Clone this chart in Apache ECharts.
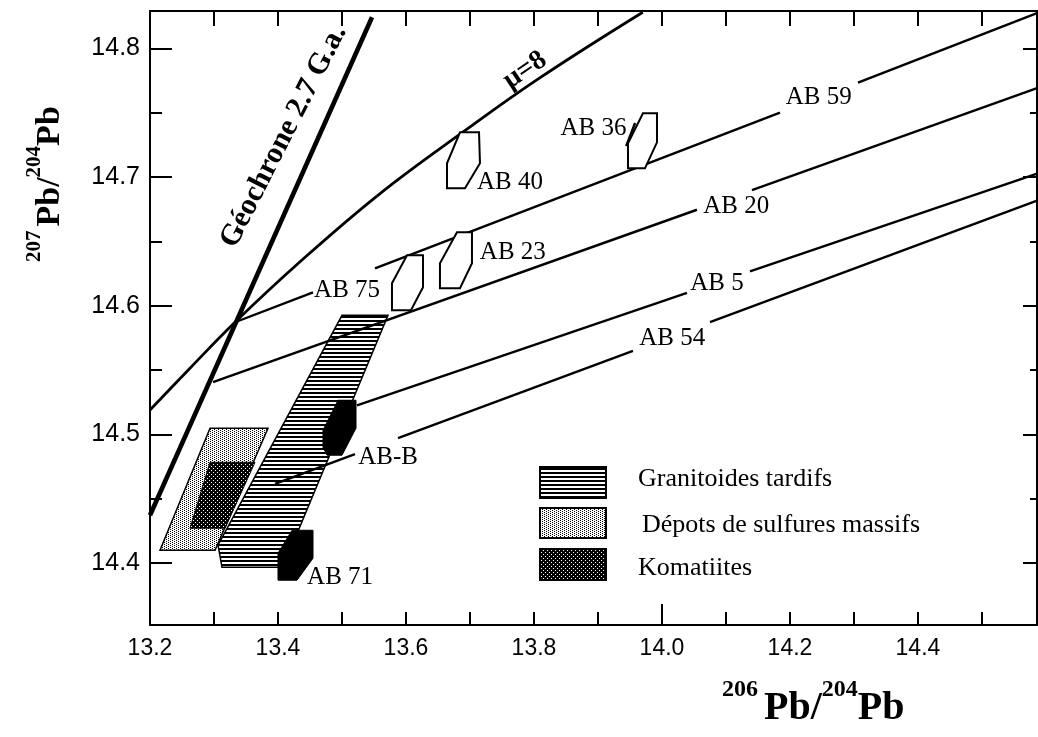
<!DOCTYPE html>
<html>
<head>
<meta charset="utf-8">
<title>207Pb/204Pb vs 206Pb/204Pb</title>
<script src="https://cdn.jsdelivr.net/npm/echarts/dist/echarts.min.js"></script>
<style>
  html, body { margin: 0; padding: 0; background: #fff; }
  #chart { width: 1038px; height: 737px; }
</style>
</head>
<body>
<div id="chart"></div>
<script>
// axis ranges and ticks
const X_MIN = 13.2, X_MAX = 14.586
const Y_MIN = 14.352, Y_MAX = 14.829
const xLabels = [13.2, 13.4, 13.6, 13.8, 14.0, 14.2, 14.4]
const xTicks = [13.3, 13.4, 13.5, 13.6, 13.7, 13.8, 13.9, 14.1, 14.2, 14.3, 14.4, 14.5]
const xTicksTop = [13.3, 13.4, 13.5, 13.6, 13.7, 13.8, 13.9, 14.0, 14.1, 14.2, 14.3, 14.4, 14.5]
const yLabels = [14.4, 14.5, 14.6, 14.7, 14.8]
const yMinorTicks = [14.45, 14.55, 14.65, 14.75]

// reference lines
const geochron = [[13.2, 14.4373], [13.5469, 14.8241]]
const muCurve = [[13.2, 14.519], [13.2625, 14.5515], [13.3328, 14.5872], [13.434, 14.634],
  [13.559, 14.687], [13.692, 14.736], [13.809, 14.777], [13.970, 14.828]]
// isochrons, each split where a label sits
const lineAB59 = [[[13.3328, 14.5872], [13.4547, 14.6105]], [[13.5516, 14.6290], [14.1844, 14.7501]], [[14.3063, 14.7734], [14.585, 14.8272]]]
const lineAB20 = [[[13.2984, 14.5406], [14.0547, 14.6746]], [[14.1406, 14.6898], [14.585, 14.7688]]]
const lineAB5 = [[[13.5234, 14.5227], [14.0391, 14.6100]], [[14.1375, 14.6267], [14.585, 14.7025]]]
const lineAB54 = [[[13.3953, 14.4616], [13.5203, 14.4847]], [[13.5875, 14.4971], [13.9547, 14.5650]], [[14.075, 14.5873], [14.585, 14.6815]]]

// fields
const sulfideField = [[13.2156, 14.4101], [13.2938, 14.5049], [13.3844, 14.5049], [13.3016, 14.4101]]
const komatiiteField = [[13.2625, 14.4272], [13.2938, 14.4784], [13.3641, 14.4784], [13.3172, 14.4272]]
const granitoidField = [[13.5, 14.5926], [13.5719, 14.5926], [13.4078, 14.3969], [13.3125, 14.3969], [13.3063, 14.414]]
// komatiite samples (black)
const komAB_B = [[13.4938, 14.5266], [13.5219, 14.5266], [13.5219, 14.5049], [13.5, 14.4839], [13.4766, 14.4839], [13.4703, 14.4901], [13.4703, 14.5033]]
const komAB71 = [[13.4219, 14.4256], [13.4547, 14.4256], [13.4547, 14.4039], [13.4297, 14.3868], [13.4, 14.3868], [13.4, 14.4078]]
// open sample boxes
const boxAB40 = [[13.6844, 14.7348], [13.7141, 14.7348], [13.7156, 14.7107], [13.6922, 14.6913], [13.6641, 14.6913], [13.6641, 14.7107]]
const boxAB23 = [[13.6797, 14.6571], [13.7031, 14.6571], [13.7031, 14.633], [13.6844, 14.6136], [13.6531, 14.6136], [13.6531, 14.633]]
const boxAB75 = [[13.6016, 14.6392], [13.6266, 14.6392], [13.6266, 14.6144], [13.6078, 14.5965], [13.5781, 14.5965], [13.5781, 14.6175]]
const boxAB36 = [[13.9703, 14.7495], [13.9922, 14.7495], [13.9922, 14.727], [13.9734, 14.7068], [13.9469, 14.7068], [13.9469, 14.7262]]
// small leader from AB 36 label to its box
const leaderAB36 = [[13.944, 14.724], [13.958, 14.742]]

// text labels [text, x, y]
const sampleLabels = [
  ['AB 75', 13.508, 14.612], ['AB 59', 14.245, 14.762], ['AB 20', 14.116, 14.677],
  ['AB 5', 14.086, 14.6175], ['AB 54', 14.016, 14.575], ['AB 40', 13.7625, 14.696],
  ['AB 23', 13.767, 14.6416], ['AB 36', 13.893, 14.738], ['AB-B', 13.572, 14.4823],
  ['AB 71', 13.497, 14.389]
]
const curveLabels = [['Géochrone 2.7 G.a.', 13.409, 14.7315, 63], ['\u03bc=8', 13.786, 14.783, 34]]
const legendNames = ['Granitoides tardifs', 'Dépots de sulfures massifs', 'Komatiites']

const SERIF = '"Liberation Serif", "Times New Roman", serif'
const SANS = '"Liberation Sans", Arial, sans-serif'

function makePattern (w, h, bg, fg, pixels) {
  const c = document.createElement('canvas')
  c.width = w
  c.height = h
  const ctx = c.getContext('2d')
  ctx.fillStyle = bg
  ctx.fillRect(0, 0, w, h)
  ctx.fillStyle = fg
  pixels.forEach(p => ctx.fillRect(p[0], p[1], p[2] || 1, p[3] || 1))
  return { image: c, repeat: 'repeat' }
}
const hatch = makePattern(4, 4, '#fff', '#000', [[0, 0, 4, 2]])
const lightDots = makePattern(4, 4, '#fff', '#000', [[0, 0], [2, 1], [0, 2], [2, 3]])
const darkDots = makePattern(4, 4, '#000', '#fff', [[1, 0], [3, 2]])

const fieldsBelow = [
  { pts: sulfideField, fill: lightDots, width: 1.5 },
  { pts: komatiiteField, fill: darkDots, width: 1 },
  { pts: granitoidField, fill: hatch, width: 1.5 }
]
const marksAbove = [
  { pts: komAB_B, fill: '#000', width: 1 },
  { pts: komAB71, fill: '#000', width: 1 },
  { pts: boxAB40, fill: '#fff', width: 2 },
  { pts: boxAB23, fill: '#fff', width: 2 },
  { pts: boxAB75, fill: '#fff', width: 2 },
  { pts: boxAB36, fill: '#fff', width: 2 }
]

function polygonSeries (list, z) {
  return {
    type: 'custom',
    z: z,
    silent: true,
    data: list.map((p, i) => [i]),
    encode: { x: -1, y: -1 },
    renderItem: function (params, api) {
      const item = list[api.value(0)]
      return {
        type: 'polygon',
        shape: { points: item.pts.map(p => api.coord(p)) },
        style: { fill: item.fill, stroke: '#000', lineWidth: item.width }
      }
    }
  }
}

function segmentSeries (segments, width, z) {
  return {
    type: 'lines',
    coordinateSystem: 'cartesian2d',
    polyline: false,
    silent: true,
    z: z,
    lineStyle: { color: '#000', width: width, opacity: 1, curveness: 0 },
    data: segments.map(s => ({ coords: s }))
  }
}

// superscript titles built from text pieces
const measureCtx = document.createElement('canvas').getContext('2d')
function titlePieces (pieces, mainSize, supSize, raise) {
  const out = []
  let x = 0
  pieces.forEach(p => {
    const size = p.sup ? supSize : mainSize
    const font = 'bold ' + size + 'px ' + SERIF
    measureCtx.font = font
    out.push({
      type: 'text',
      x: x,
      y: p.sup ? -raise : 0,
      style: { text: p.t, font: font, fill: '#000', textAlign: 'left', textVerticalAlign: 'bottom', align: 'left', verticalAlign: 'bottom' }
    })
    x += measureCtx.measureText(p.t).width + (p.gap || 0)
  })
  return out
}
const xTitle = [{ t: '206', sup: true, gap: 6 }, { t: 'Pb/' }, { t: '204', sup: true }, { t: 'Pb' }]
const yTitle = [{ t: '207', sup: true, gap: 4 }, { t: 'Pb/' }, { t: '204', sup: true }, { t: 'Pb' }]

const legendTop = [467, 508, 549]
const legendFills = [hatch, lightDots, darkDots]

const chart = echarts.init(document.getElementById('chart'))

const axisLineStyle = { color: '#000', width: 2 }
const tickStyle = { color: '#000', width: 2 }

const option = {
  animation: false,
  backgroundColor: '#fff',
  grid: { left: 150, top: 11, right: 1, bottom: 112 },
  xAxis: [
    {
      type: 'value', position: 'bottom', min: X_MIN, max: X_MAX,
      axisLine: { show: true, onZero: false, lineStyle: axisLineStyle },
      axisTick: { show: true, inside: true, length: 13, customValues: xTicks, lineStyle: tickStyle },
      axisLabel: { show: true, customValues: xLabels, formatter: v => v.toFixed(1), margin: 12, color: '#000', fontSize: 23, fontFamily: SANS },
      splitLine: { show: false }
    },
    {
      type: 'value', position: 'bottom', min: X_MIN, max: X_MAX,
      axisLine: { show: false },
      axisTick: { show: true, inside: true, length: 21, customValues: [14.0], lineStyle: tickStyle },
      axisLabel: { show: false },
      splitLine: { show: false }
    },
    {
      type: 'value', position: 'top', min: X_MIN, max: X_MAX,
      axisLine: { show: true, onZero: false, lineStyle: axisLineStyle },
      axisTick: { show: true, inside: true, length: 15, customValues: xTicksTop, lineStyle: tickStyle },
      axisLabel: { show: false },
      splitLine: { show: false }
    }
  ],
  yAxis: [
    {
      type: 'value', position: 'left', min: Y_MIN, max: Y_MAX,
      axisLine: { show: true, onZero: false, lineStyle: axisLineStyle },
      axisTick: { show: true, inside: true, length: 22, customValues: yLabels, lineStyle: tickStyle },
      axisLabel: { show: true, customValues: yLabels, formatter: v => v.toFixed(1), margin: 10, color: '#000', fontSize: 25, fontFamily: SANS },
      splitLine: { show: false }
    },
    {
      type: 'value', position: 'left', min: Y_MIN, max: Y_MAX,
      axisLine: { show: false },
      axisTick: { show: true, inside: true, length: 12, customValues: yMinorTicks, lineStyle: tickStyle },
      axisLabel: { show: false },
      splitLine: { show: false }
    },
    {
      type: 'value', position: 'right', min: Y_MIN, max: Y_MAX,
      axisLine: { show: true, onZero: false, lineStyle: axisLineStyle },
      axisTick: { show: true, inside: true, length: 14, customValues: yLabels, lineStyle: tickStyle },
      axisLabel: { show: false },
      splitLine: { show: false }
    },
    {
      type: 'value', position: 'right', min: Y_MIN, max: Y_MAX,
      axisLine: { show: false },
      axisTick: { show: true, inside: true, length: 7, customValues: yMinorTicks, lineStyle: tickStyle },
      axisLabel: { show: false },
      splitLine: { show: false }
    }
  ],
  series: [
    polygonSeries(fieldsBelow, 2),
    segmentSeries([geochron], 4.6, 3),
    {
      type: 'line',
      z: 3,
      silent: true,
      smooth: 0.4,
      symbol: 'none',
      lineStyle: { color: '#000', width: 2.8 },
      data: muCurve
    },
    segmentSeries([].concat(lineAB59, lineAB20, lineAB5, lineAB54, [leaderAB36]), 2.4, 3),
    polygonSeries(marksAbove, 4),
    {
      type: 'scatter',
      z: 6,
      silent: true,
      symbolSize: 1,
      itemStyle: { color: 'rgba(0,0,0,0)', opacity: 1 },
      label: {
        show: true, position: 'inside', formatter: '{b}', color: '#000', opacity: 1,
        textBorderWidth: 0, fontFamily: SERIF, fontSize: 25
      },
      data: sampleLabels.map(l => ({ name: l[0], value: [l[1], l[2]] })).concat(
        curveLabels.map((l, i) => ({
          name: l[0],
          value: [l[1], l[2]],
          label: { rotate: l[3], fontWeight: 'bold', fontSize: i === 0 ? 30 : 28 }
        }))
      )
    }
  ],
  graphic: [
    {
      type: 'group', x: 722, y: 729,
      children: titlePieces(xTitle, 40, 24, 27)
    },
    {
      type: 'group', x: 67, y: 262, rotation: Math.PI / 2,
      children: titlePieces(yTitle, 34, 21, 22)
    }
  ].concat(legendTop.map((top, i) => ({
    type: 'rect',
    shape: { x: 540, y: top, width: 66, height: i === 1 ? 30 : 31 },
    style: { fill: legendFills[i], stroke: '#000', lineWidth: 2 }
  }))).concat(legendNames.map((name, i) => ({
    type: 'text',
    x: i === 1 ? 642 : 638,
    y: [479, 525, 568][i],
    style: { text: name, font: '26px ' + SERIF, fill: '#000', textVerticalAlign: 'middle', verticalAlign: 'middle' }
  })))
}

chart.setOption(option)
</script>
</body>
</html>
